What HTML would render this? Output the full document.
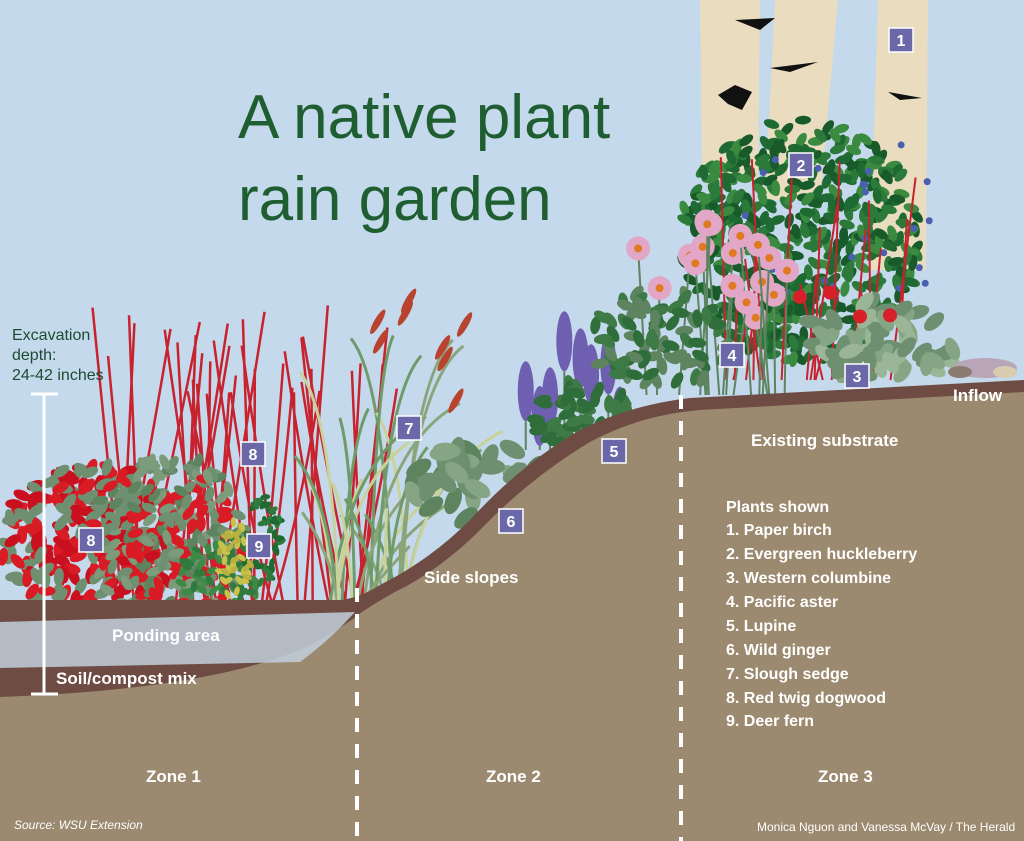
<!DOCTYPE html>
<html><head><meta charset="utf-8">
<style>
html,body{margin:0;padding:0;width:1024px;height:841px;overflow:hidden;background:#c4d9ec}
svg{display:block}
.t{font-family:"Liberation Sans",sans-serif;}
.lbl{font-family:"Liberation Sans",sans-serif;font-weight:bold;fill:#fff;font-size:17px}
.pl{font-family:"Liberation Sans",sans-serif;font-weight:bold;fill:#fff;font-size:16px}
</style></head><body>
<svg id="s" width="1024" height="841" viewBox="0 0 1024 841" xmlns="http://www.w3.org/2000/svg">
<rect width="1024" height="841" fill="#c4d9ec"/>
<path d="M700 0 L760 0 L758 180 L702 180 Z" fill="#e9dcbf"/>
<path d="M775 0 L838 0 L820 200 L765 200 Z" fill="#e9dcbf"/>
<path d="M878 0 L928 0 L926 270 L870 270 Z" fill="#e9dcbf"/>
<path d="M735 20 L775 18 L760 30 Z" fill="#111"/>
<path d="M770 68 L818 62 L790 72 Z" fill="#111"/>
<path d="M718 95 L735 85 L752 92 L742 110 L728 104 Z" fill="#111"/>
<path d="M888 92 L922 98 L900 100 Z" fill="#111"/>
<g id="plants"></g>
<path d="M0 600 L340 600 Q360 598 380 585 Q430 560 470 520 Q520 465 580 430 Q630 405 690 398 L1024 380 L1024 841 L0 841 Z" fill="#6e4c43"/>
<path d="M0 697 Q200 690 300 650 Q340 630 362 612 Q380 600 395 592 Q440 570 480 530 Q530 478 590 442 Q640 415 700 410 L1024 392 L1024 841 L0 841 Z" fill="#9c8a70"/>
<path d="M0 622 L355 612 Q330 640 300 662 L0 668 Z" fill="#c2cfdc" opacity="0.85"/>
<ellipse cx="985" cy="368" rx="32" ry="10" fill="#b8a6b8"/>
<ellipse cx="960" cy="372" rx="12" ry="6" fill="#8a7d70"/>
<ellipse cx="1005" cy="372" rx="12" ry="6" fill="#d9ccb0"/>
<g id="fg"></g>
<line x1="44" y1="393" x2="44" y2="694" stroke="#fff" stroke-width="3"/>
<line x1="31" y1="394" x2="58" y2="394" stroke="#fff" stroke-width="3"/>
<line x1="31" y1="694" x2="58" y2="694" stroke="#fff" stroke-width="3"/>
<line x1="357" y1="588" x2="357" y2="841" stroke="#fff" stroke-width="4" stroke-dasharray="14,12"/>
<line x1="681" y1="395" x2="681" y2="841" stroke="#fff" stroke-width="4" stroke-dasharray="14,12"/>
<text x="238" y="138" class="t" font-size="62" fill="#1f5e30">A native plant</text>
<text x="238" y="220" class="t" font-size="62" fill="#1f5e30">rain garden</text>
<text x="12" y="340" class="t" font-size="16" fill="#1f4a30">Excavation</text>
<text x="12" y="360" class="t" font-size="16" fill="#1f4a30">depth:</text>
<text x="12" y="380" class="t" font-size="16" fill="#1f4a30">24-42 inches</text>
<text x="112" y="641" class="lbl">Ponding area</text>
<text x="56" y="684" class="lbl">Soil/compost mix</text>
<text x="424" y="583" class="lbl">Side slopes</text>
<text x="751" y="446" class="lbl">Existing substrate</text>
<text x="953" y="401" class="lbl">Inflow</text>
<text x="726" y="512" class="pl">Plants shown</text>
<text x="726" y="535" class="pl">1. Paper birch</text>
<text x="726" y="559" class="pl">2. Evergreen huckleberry</text>
<text x="726" y="583" class="pl">3. Western columbine</text>
<text x="726" y="607" class="pl">4. Pacific aster</text>
<text x="726" y="631" class="pl">5. Lupine</text>
<text x="726" y="655" class="pl">6. Wild ginger</text>
<text x="726" y="679" class="pl">7. Slough sedge</text>
<text x="726" y="703" class="pl">8. Red twig dogwood</text>
<text x="726" y="726" class="pl">9. Deer fern</text>
<text x="146" y="782" class="lbl">Zone 1</text>
<text x="486" y="782" class="lbl">Zone 2</text>
<text x="818" y="782" class="lbl">Zone 3</text>
<text x="14" y="829" class="t" font-size="12" font-style="italic" fill="#fff">Source: WSU Extension</text>
<text x="757" y="831" class="t" font-size="12" fill="#fff">Monica Nguon and Vanessa McVay / The Herald</text>
<g id="badges"></g>
</svg>
<script>
var NS="http://www.w3.org/2000/svg";
function el(p,t,a){var e=document.createElementNS(NS,t);for(var k in a)e.setAttribute(k,a[k]);p.appendChild(e);return e;}
var seed=7;function r(){seed=(seed*16807)%2147483647;return (seed-1)/2147483646;}
var P=document.getElementById('plants'),F=document.getElementById('fg'),B=document.getElementById('badges');
function leaves(g,cx,cy,rx,ry,n,cols,sz){for(var i=0;i<n;i++){var a=r()*6.283,d=Math.sqrt(r());var x=cx+Math.cos(a)*rx*d,y=cy+Math.sin(a)*ry*d;el(g,'ellipse',{cx:x,cy:y,rx:sz,ry:sz*0.55,fill:cols[Math.floor(r()*cols.length)],transform:'rotate('+Math.floor(r()*180)+' '+x+' '+y+')'});}}
for(var i=0;i<40;i++){var x0=120+r()*260,x1=x0+(r()-0.5)*120,y1=300+r()*100;el(P,'path',{d:'M'+x0+' 610 Q'+((x0+x1)/2)+' '+(y1+150)+' '+x1+' '+y1,stroke:'#c8222e','stroke-width':2.5,fill:'none'});}
leaves(P,95,540,95,75,260,['#c8101e','#d81b25','#6f9070'],9);
leaves(P,170,540,80,85,220,['#6f9070','#7b9b7a','#5d845f','#d81b25'],8);
leaves(P,220,575,40,40,60,['#2f7a3c','#3e8a45'],6);
leaves(P,262,540,20,45,50,['#2f7a3c','#1f6a32'],5);
leaves(P,235,560,16,40,40,['#c9c24a','#b8b040'],5);
for(var i=0;i<30;i++){var x0=330+r()*80,x1=x0+(r()-0.3)*150,y1=330+r()*220;el(P,'path',{d:'M'+x0+' 600 Q'+(x0+(x1-x0)*0.2)+' '+(y1+40)+' '+x1+' '+y1,stroke:['#8aa57a','#c8d29a','#6f9a6a'][i%3],'stroke-width':3,fill:'none'});}
for(var i=0;i<8;i++){var x=330+r()*140,y=300+r()*120;el(P,'ellipse',{cx:x,cy:y,rx:3.5,ry:14,fill:'#b8432e',transform:'rotate(30 '+x+' '+y+')'});}
leaves(P,480,480,70,45,40,['#6f9070','#5d845f','#86a584'],14);
for(var i=0;i<8;i++){var x=520+i*14+r()*6,y=310+r()*80;el(P,'line',{x1:x,y1:y+60,x2:x,y2:450,stroke:'#5d845f','stroke-width':2});el(P,'ellipse',{cx:x,cy:y+30,rx:8,ry:30,fill:'#6e5fb0'});}
leaves(P,585,420,50,40,60,['#2f6e3a','#3e7a45'],9);
leaves(P,800,240,120,120,500,['#1f6a32','#2c7a3a','#185a2a','#3a8a40'],8);
for(var i=0;i<25;i++){el(P,'circle',{cx:720+r()*220,cy:140+r()*160,r:3.5,fill:'#4a5fb0'});}
for(var i=0;i<20;i++){var x=700+r()*200;el(P,'line',{x1:x,y1:380,x2:x+(r()-0.5)*60,y2:150+r()*150,stroke:'#c8222e','stroke-width':2});}
for(var i=0;i<18;i++){var x=595+r()*200,y=210+r()*110;el(P,'line',{x1:x,y1:y,x2:x+(r()-0.5)*30,y2:395,stroke:'#5d845f','stroke-width':2});el(P,'circle',{cx:x,cy:y,r:12,fill:'#e2a6c6'});el(P,'circle',{cx:x,cy:y,r:4,fill:'#e07a20'});}
leaves(P,660,340,70,50,80,['#2f6e3a','#3e7a45','#5d845f'],9);
leaves(P,880,340,80,40,60,['#86a584','#9bb696','#6f9070'],12);
for(var i=0;i<4;i++){el(P,'circle',{cx:800+i*30,cy:290+r()*30,r:7,fill:'#d8202a'});}
[[901,40,1],[801,165,2],[857,376,3],[732,355,4],[614,451,5],[511,521,6],[409,428,7],[253,454,8],[91,540,8],[259,546,9]].forEach(function(b){
el(B,'rect',{x:b[0]-12,y:b[1]-12,width:24,height:24,fill:'#6a68a8',stroke:'#fff','stroke-width':1.5});
var t=el(B,'text',{x:b[0],y:b[1]+6,'text-anchor':'middle','font-family':'Liberation Sans,sans-serif','font-weight':'bold','font-size':16,fill:'#fff'});t.textContent=b[2];});
</script>
</body></html>
